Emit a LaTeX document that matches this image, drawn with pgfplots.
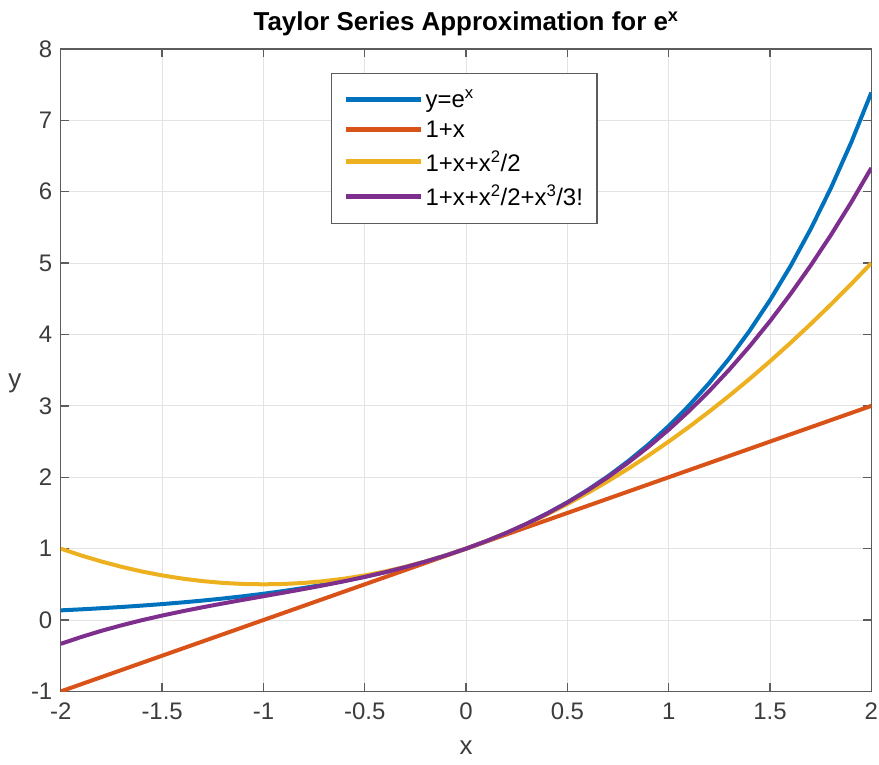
\documentclass[border={5bp 7bp 0bp 8bp}]{standalone}
\usepackage{pgfplots}
\pgfplotsset{compat=1.18}
\usepackage{pgfplotstable}
\usepackage{fontspec}
\setmainfont{Liberation Sans}
\definecolor{c1}{rgb}{0,0.447,0.741}
\definecolor{c2}{rgb}{0.85,0.325,0.098}
\definecolor{c3}{rgb}{0.929,0.694,0.125}
\definecolor{c4}{rgb}{0.494,0.184,0.556}
\definecolor{axc}{rgb}{0.15,0.15,0.15}
\pgfplotstableread{
x ex lin quad cub
-2.0 0.1353 -1.0 1.000 -0.3333
-1.9 0.1496 -0.9 0.905 -0.2382
-1.8 0.1653 -0.8 0.820 -0.1520
-1.7 0.1827 -0.7 0.745 -0.0738
-1.6 0.2019 -0.6 0.680 -0.0027
-1.5 0.2231 -0.5 0.625 0.0625
-1.4 0.2466 -0.4 0.580 0.1227
-1.3 0.2725 -0.3 0.545 0.1788
-1.2 0.3012 -0.2 0.520 0.2320
-1.1 0.3329 -0.1 0.505 0.2832
-1.0 0.3679 0.0 0.500 0.3333
-0.9 0.4066 0.1 0.505 0.3835
-0.8 0.4493 0.2 0.520 0.4347
-0.7 0.4966 0.3 0.545 0.4878
-0.6 0.5488 0.4 0.580 0.5440
-0.5 0.6065 0.5 0.625 0.6042
-0.4 0.6703 0.6 0.680 0.6693
-0.3 0.7408 0.7 0.745 0.7405
-0.2 0.8187 0.8 0.820 0.8187
-0.1 0.9048 0.9 0.905 0.9048
0.0 1.0000 1.0 1.000 1.0000
0.1 1.1052 1.1 1.105 1.1052
0.2 1.2214 1.2 1.220 1.2213
0.3 1.3499 1.3 1.345 1.3495
0.4 1.4918 1.4 1.480 1.4907
0.5 1.6487 1.5 1.625 1.6458
0.6 1.8221 1.6 1.780 1.8160
0.7 2.0138 1.7 1.945 2.0022
0.8 2.2255 1.8 2.120 2.2053
0.9 2.4596 1.9 2.305 2.4265
1.0 2.7183 2.0 2.500 2.6667
1.1 3.0042 2.1 2.705 2.9268
1.2 3.3201 2.2 2.920 3.2080
1.3 3.6693 2.3 3.145 3.5112
1.4 4.0552 2.4 3.380 3.8373
1.5 4.4817 2.5 3.625 4.1875
1.6 4.9530 2.6 3.880 4.5627
1.7 5.4739 2.7 4.145 4.9638
1.8 6.0496 2.8 4.420 5.3920
1.9 6.6859 2.9 4.705 5.8482
2.0 7.3891 3.0 5.000 6.3333
}\data
\begin{document}
\begin{tikzpicture}
\begin{axis}[
  scale only axis,
  width=810bp, height=642bp,
  xmin=-2, xmax=2, ymin=-1, ymax=8,
  xtick={-2,-1.5,...,2}, ytick={-1,0,...,8},
  /pgf/number format/assume math mode=true,
  xticklabel style={/pgf/number format/fixed, yshift=-8bp, inner xsep=1bp},
  yticklabel style={xshift=-5bp},
  tick label style={font=\fontsize{24}{28}\selectfont, color=axc!90},
  label style={font=\fontsize{26}{30}\selectfont, color=axc!90},
  title style={font=\fontsize{26}{30}\selectfont\bfseries, yshift=4bp},
  title={Taylor Series Approximation for e\textsuperscript{x}},
  xlabel={x}, ylabel={y},
  ylabel style={rotate=-90, at={(axis description cs:0,0.48)}, anchor=east, xshift=-36bp},
  xlabel style={yshift=-14bp},
  grid=major,
  major grid style={color=gray!22, line width=0.8pt},
  axis line style={color=axc!75, line width=1.3pt},
  tick style={color=axc!75, line width=1.3pt},
  tick align=inside, major tick length=8bp,
  legend style={at={(0.3333,0.9626)}, anchor=north west,
    font=\fontsize{24}{28}\selectfont, draw=axc!75, line width=1.2pt,
    inner xsep=12bp, inner ysep=14bp, row sep=8bp},
  legend cell align=left,
  legend image code/.code={\draw[#1, line width=5bp] (6bp,0bp) -- (81bp,0bp);},
]
\addplot[c1, line width=4bp] table[x=x,y=ex] {\data};
\addlegendentry{y=e\textsuperscript{x}}
\addplot[c2, line width=4bp] table[x=x,y=lin] {\data};
\addlegendentry{1+x}
\addplot[c3, line width=4bp] table[x=x,y=quad] {\data};
\addlegendentry{1+x+x\textsuperscript{2}/2}
\addplot[c4, line width=4bp] table[x=x,y=cub] {\data};
\addlegendentry{1+x+x\textsuperscript{2}/2+x\textsuperscript{3}/3!}
\end{axis}
\end{tikzpicture}
\end{document}
